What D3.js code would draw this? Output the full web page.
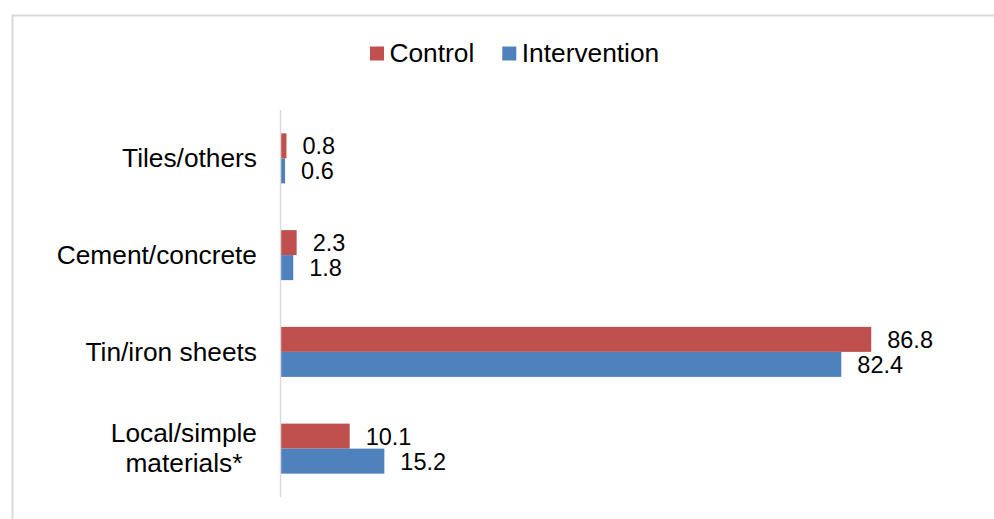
<!DOCTYPE html>
<html>
<head>
<meta charset="utf-8">
<script src="https://cdn.jsdelivr.net/npm/d3@7"></script>
<style>
  html, body { margin: 0; padding: 0; background: #fff; }
  svg { display: block; font-family: "Liberation Sans", Arial, sans-serif; }
</style>
</head>
<body>
<svg id="chart" width="994" height="519"></svg>
<script>
// Roofing material by study arm (%)
const categories = ["Tiles/others", "Cement/concrete", "Tin/iron sheets", "Local/simple materials*"];
const categoryLines = [["Tiles/others"], ["Cement/concrete"], ["Tin/iron sheets"], ["Local/simple", "materials*"]];
const seriesNames = ["Control", "Intervention"];
const controlValues = [0.8, 2.3, 86.8, 10.1];
const interventionValues = [0.6, 1.8, 82.4, 15.2];
const seriesColors = ["#C0504D", "#4F81BD"];

const svg = d3.select("#chart");
const W = 994, H = 519;

// frame
svg.append("path")
  .attr("d", `M12.5,${H} V15.5 H${W}`)
  .attr("fill", "none")
  .attr("stroke", "#d9d9d9")
  .attr("stroke-width", 2);

const x = d3.scaleLinear().domain([0, 100]).range([281, 961]);
const y = d3.scaleBand().domain(categories).range([110, 497])
  .paddingInner(0.483).paddingOuter(0.2415);
const ySub = d3.scaleBand().domain(seriesNames).range([0, y.bandwidth()]);

const rows = categories.map((c, i) => ({
  cat: c,
  lines: categoryLines[i],
  vals: [controlValues[i], interventionValues[i]]
}));

// bars
const groups = svg.append("g").selectAll("g").data(rows).join("g")
  .attr("transform", d => `translate(0,${y(d.cat)})`);

groups.selectAll("rect")
  .data(d => d.vals.map((v, j) => ({ v, s: seriesNames[j], j })))
  .join("rect")
  .attr("x", x(0))
  .attr("y", d => ySub(d.s))
  .attr("width", d => x(d.v) - x(0))
  .attr("height", ySub.bandwidth())
  .attr("fill", d => seriesColors[d.j]);

// value labels
groups.selectAll("text")
  .data(d => d.vals.map((v, j) => ({ v, s: seriesNames[j], j })))
  .join("text")
  .attr("x", d => x(d.v) + 16)
  .attr("y", d => ySub(d.s) + ySub.bandwidth() / 2)
  .attr("dy", "0.36em")
  .attr("font-size", 23.5)
  .attr("fill", "#000")
  .text(d => d.v.toFixed(1));

// category axis line
svg.append("line")
  .attr("x1", 280.5).attr("x2", 280.5)
  .attr("y1", 110).attr("y2", 497)
  .attr("stroke", "#d9d9d9")
  .attr("stroke-width", 1.5);

// category labels (multi-line labels centred as a block, right-aligned)
const catG = svg.append("g").selectAll("g").data(rows).join("g")
  .attr("transform", d => `translate(0,${y(d.cat) + y.bandwidth() / 2})`);

catG.each(function (d) {
  const g = d3.select(this);
  const n = d.lines.length;
  const lh = 30;
  const t = g.append("text")
    .attr("font-size", 26.3)
    .attr("fill", "#000")
    .attr("text-anchor", n > 1 ? "middle" : "end");
  d.lines.forEach((ln, k) => {
    t.append("tspan")
      .attr("x", 0)
      .attr("y", (k - (n - 1) / 2) * lh)
      .attr("dy", "0.33em")
      .text(ln);
  });
  if (n > 1) {
    const bb = t.node().getBBox();
    t.attr("transform", `translate(${257 - bb.width / 2},0)`);
  } else {
    t.attr("transform", "translate(257,0)");
  }
});

// legend
const legend = svg.append("g");
let lx = 370;
seriesNames.forEach((name, j) => {
  legend.append("rect")
    .attr("x", lx).attr("y", 46.5)
    .attr("width", 14).attr("height", 14)
    .attr("fill", seriesColors[j]);
  const t = legend.append("text")
    .attr("x", lx + 19.5).attr("y", 62.3)
    .attr("font-size", 26.3)
    .attr("fill", "#000")
    .text(name);
  lx = lx + 19.5 + t.node().getComputedTextLength() + 28;
});
</script>
</body>
</html>
